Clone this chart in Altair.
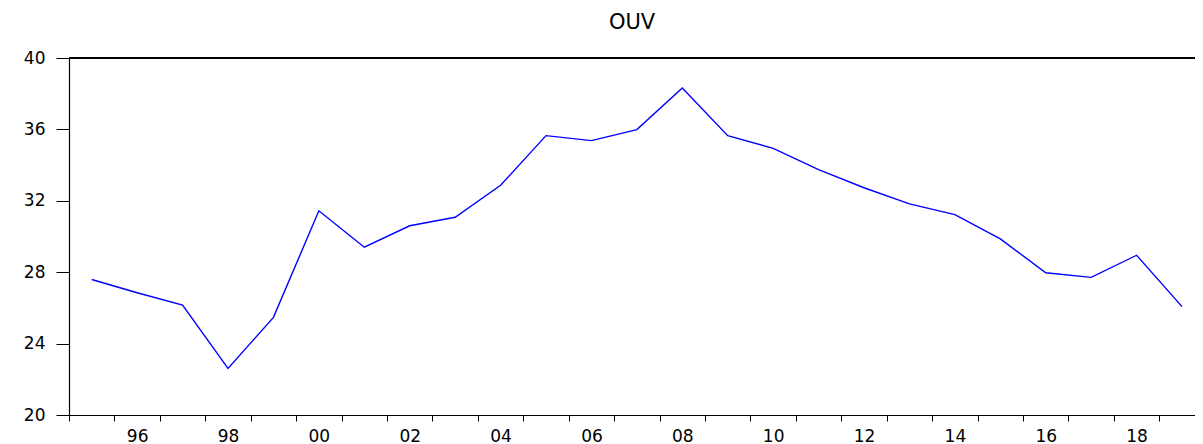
import altair as alt
import pandas as pd

years = list(range(1995, 2020))
ouv = [27.59, 26.85, 26.16, 22.61, 25.47, 31.44, 29.40, 30.60, 31.08, 32.87,
       35.65, 35.37, 35.99, 38.32, 35.65, 34.94, 33.75, 32.73, 31.83, 31.23,
       29.87, 27.97, 27.71, 28.95, 26.07]
y_ticks = [20, 24, 28, 32, 36, 40]
x_ticks = list(range(1995, 2020))

df = pd.DataFrame({"t": [y + 0.5 for y in years], "ouv": ouv})

FONT = "DejaVu Sans"
year_px = 45.43
W = 1126
H = 357
x_max = 1995 + W / year_px

xscale = alt.Scale(domain=[1995, x_max], nice=False, zero=False)
yscale = alt.Scale(domain=[20, 40], nice=False, zero=False)

line = alt.Chart(df).mark_line(color="#0000FF", strokeWidth=1.4, clip=True).encode(
    x=alt.X("t:Q", scale=xscale, axis=alt.Axis(
        values=x_ticks, title=None, grid=False, tickSize=6, tickColor="#000000",
        domainColor="#000000", domainWidth=1.2, tickWidth=1,
        labelExpr="(datum.value % 2 == 0) ? substring(toString(datum.value), 2, 4) : ''",
        labelOffset=year_px / 2, labelFlush=False, labelOverlap=False,
        labelFont=FONT, labelFontSize=17, labelColor="#000000", labelPadding=7)),
    y=alt.Y("ouv:Q", scale=yscale, axis=alt.Axis(
        values=y_ticks, title=None, grid=False, tickSize=13, tickColor="#000000",
        domainColor="#000000", domainWidth=1.2, tickWidth=1,
        labelFont=FONT, labelFontSize=17, labelColor="#000000", labelPadding=11,
        labelFlush=False)),
)

top = alt.Chart(pd.DataFrame({"a": [1995], "b": [x_max], "v": [40]})).mark_rule(
    color="#000000", strokeWidth=1.8).encode(
    x=alt.X("a:Q", scale=xscale), x2="b:Q", y=alt.Y("v:Q", scale=yscale))

chart = alt.layer(line, top).properties(
    width=W, height=H,
    title=alt.TitleParams("OUV", font=FONT, fontSize=21, fontWeight="normal",
                          color="#000000", anchor="middle", offset=16),
    autosize=alt.AutoSizeParams(type="none"),
    padding={"left": 61, "top": 50, "right": 0, "bottom": 29},
).configure_view(stroke=None).configure(background="#ffffff")

chart.save("out.html", embed_options={"renderer": "svg", "actions": False})
